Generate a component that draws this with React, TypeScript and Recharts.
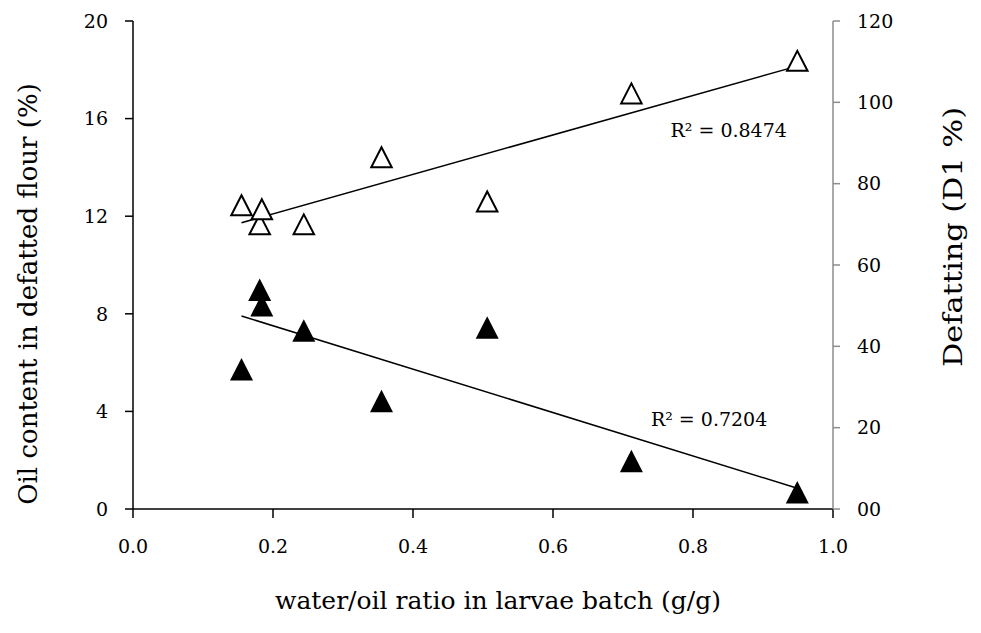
import React from 'react';
import {
  ComposedChart,
  Scatter,
  XAxis,
  YAxis,
  ReferenceLine,
  ReferenceDot,
} from 'recharts';

// ---- data ----
const waterOilRatio = [0.155, 0.181, 0.184, 0.244, 0.355, 0.506, 0.712, 0.949];
const oilContent = [5.73, 8.99, 8.35, 7.32, 4.43, 7.44, 1.97, 0.69];
const defatting = [74.7, 70.0, 73.7, 70.0, 86.5, 75.6, 102.2, 110.2];

const trendX = [0.155, 0.949];
const oilTrendY = [7.91, 0.85];
const defatTrendY = [70.4, 108.9];

const oilR2Label = 'R² = 0.7204';
const defatR2Label = 'R² = 0.8474';
const oilR2Pos = [0.823, 3.68];
const defatR2Pos = [0.851, 93.2];

const xTicks = [0, 0.2, 0.4, 0.6, 0.8, 1.0];
const xTickLabels = ['0.0', '0.2', '0.4', '0.6', '0.8', '1.0'];
const leftTicks = [0, 4, 8, 12, 16, 20];
const rightTicks = [0, 20, 40, 60, 80, 100, 120];
const rightTickLabels = ['00', '20', '40', '60', '80', '100', '120'];

const xTitle = 'water/oil ratio in larvae batch (g/g)';
const leftTitle = 'Oil content in defatted flour (%)';
const rightTitle = 'Defatting (D1 %)';

const oilData = waterOilRatio.map((x, i) => ({ x, y: oilContent[i] }));
const defatData = waterOilRatio.map((x, i) => ({ x, y: defatting[i] }));

const FONT = '"DejaVu Serif", serif';
const TICK_FS = 19;

const Tri = (props: any) => {
  const { cx, cy, filled } = props;
  if (cx == null || cy == null) return null;
  const w = filled ? 23 : 20.5;
  const h = filled ? 22.5 : 20;
  const d = `M${cx},${cy - h / 2} L${cx + w / 2},${cy + h / 2} L${cx - w / 2},${cy + h / 2} Z`;
  return filled ? (
    <path d={d} fill="#000" stroke="none" />
  ) : (
    <path d={d} fill="#fff" stroke="#000" strokeWidth={2} strokeLinejoin="miter" />
  );
};

const XTick = (props: any) => {
  const { x, payload } = props;
  const i = xTicks.indexOf(payload.value);
  return (
    <text x={x} y={540} dy="0.71em" textAnchor="middle" fontFamily={FONT} fontSize={TICK_FS} fill="#000">
      {i >= 0 ? xTickLabels[i] : String(payload.value)}
    </text>
  );
};

const LeftTick = (props: any) => {
  const { y, payload } = props;
  return (
    <text x={108} y={y} dy="0.355em" textAnchor="end" fontFamily={FONT} fontSize={TICK_FS} fill="#000">
      {String(payload.value)}
    </text>
  );
};

const RightTick = (props: any) => {
  const { y, payload } = props;
  const i = rightTicks.indexOf(payload.value);
  return (
    <text x={857} y={y} dy="0.355em" textAnchor="start" fontFamily={FONT} fontSize={TICK_FS} fill="#000">
      {i >= 0 ? rightTickLabels[i] : String(payload.value)}
    </text>
  );
};

const LeftTitle = () => (
  <text
    x={37}
    y={294}
    transform="rotate(-90, 37, 294)"
    textAnchor="middle"
    fontFamily={FONT}
    fontSize={26}
    fill="#000"
  >
    {leftTitle}
  </text>
);

const RightTitle = () => (
  <text
    x={962}
    y={237}
    transform="rotate(-90, 962, 237)"
    textAnchor="middle"
    fontFamily={FONT}
    fontSize={26}
    textLength={260}
    lengthAdjust="spacingAndGlyphs"
    fill="#000"
  >
    {rightTitle}
  </text>
);

const BottomTitle = () => (
  <text x={498} y={609} textAnchor="middle" fontFamily={FONT} fontSize={25} fill="#000">
    {xTitle}
  </text>
);

export default function App() {
  return (
    <div style={{ position: 'absolute', left: 0, top: 0, background: '#fff' }}>
      <ComposedChart
        width={981}
        height={633}
        margin={{ top: 21, right: 0, bottom: 0, left: 0 }}
      >
        <XAxis
          type="number"
          dataKey="x"
          domain={[0, 1]}
          ticks={xTicks}
          tickSize={9}
          tickMargin={22}
          height={124}
          axisLine={{ stroke: '#000', strokeWidth: 1.5 }}
          tickLine={{ stroke: '#000', strokeWidth: 1.5 }}
          tick={<XTick />}
          label={<BottomTitle />}
          allowDataOverflow
        />
        <YAxis
          yAxisId="left"
          type="number"
          dataKey="y"
          domain={[0, 20]}
          ticks={leftTicks}
          width={133}
          tickSize={8}
          tickMargin={17}
          axisLine={{ stroke: '#000', strokeWidth: 1.5 }}
          tickLine={{ stroke: '#000', strokeWidth: 1.5 }}
          tick={<LeftTick />}
          label={<LeftTitle />}
          allowDataOverflow
        />
        <YAxis
          yAxisId="right"
          orientation="right"
          type="number"
          dataKey="y"
          domain={[0, 120]}
          ticks={rightTicks}
          width={148}
          tickSize={7}
          tickMargin={17}
          axisLine={{ stroke: '#8c8c8c', strokeWidth: 1.5 }}
          tickLine={{ stroke: '#8c8c8c', strokeWidth: 1.5 }}
          tick={<RightTick />}
          label={<RightTitle />}
          allowDataOverflow
        />
        <ReferenceLine
          yAxisId="right"
          segment={[
            { x: trendX[0], y: defatTrendY[0] },
            { x: trendX[1], y: defatTrendY[1] },
          ]}
          stroke="#000"
          strokeWidth={1.5}
        />
        <ReferenceLine
          yAxisId="left"
          segment={[
            { x: trendX[0], y: oilTrendY[0] },
            { x: trendX[1], y: oilTrendY[1] },
          ]}
          stroke="#000"
          strokeWidth={1.5}
        />
        <Scatter
          yAxisId="right"
          data={defatData}
          isAnimationActive={false}
          shape={(p: any) => <Tri {...p} filled={false} />}
        />
        <Scatter
          yAxisId="left"
          data={oilData}
          isAnimationActive={false}
          shape={(p: any) => <Tri {...p} filled />}
        />
        <ReferenceDot
          yAxisId="right"
          x={defatR2Pos[0]}
          y={defatR2Pos[1]}
          r={0}
          fill="none"
          stroke="none"
          ifOverflow="visible"
          label={{ value: defatR2Label, position: 'center', fill: '#000', fontSize: 19, fontFamily: FONT }}
        />
        <ReferenceDot
          yAxisId="left"
          x={oilR2Pos[0]}
          y={oilR2Pos[1]}
          r={0}
          fill="none"
          stroke="none"
          ifOverflow="visible"
          label={{ value: oilR2Label, position: 'center', fill: '#000', fontSize: 19, fontFamily: FONT }}
        />
      </ComposedChart>
    </div>
  );
}
